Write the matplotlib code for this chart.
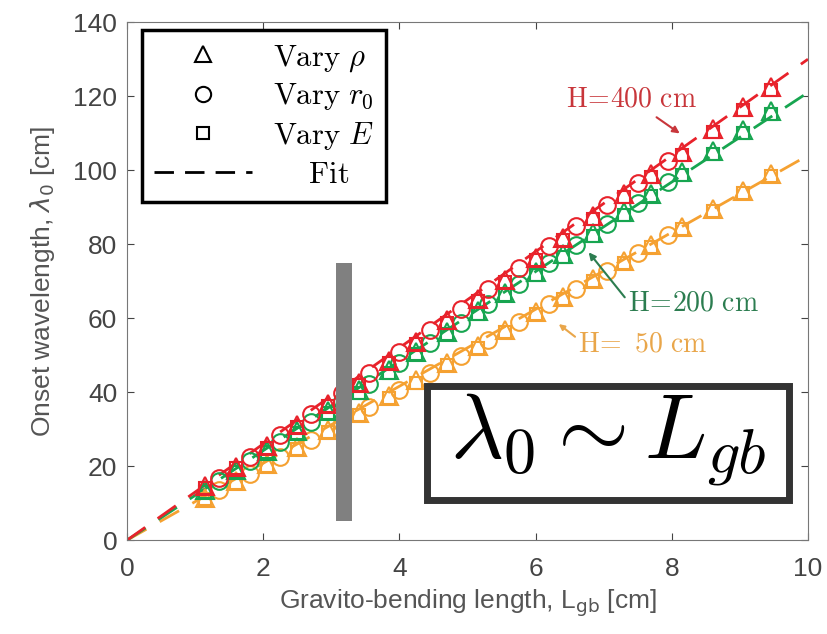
import numpy as np
import matplotlib.pyplot as plt
from matplotlib.lines import Line2D
from matplotlib.patches import Rectangle

plt.rcParams['mathtext.fontset'] = 'cm'
plt.rcParams['font.family'] = ['Liberation Sans', 'DejaVu Sans']

# dados ----------------------------------------------------------------------
x_tri = [1.15, 1.6, 2.05, 2.5, 2.95, 3.4, 3.85, 4.25, 4.7, 5.15,
         5.55, 6.0, 6.4, 6.85, 7.3, 7.7, 8.15, 8.6, 9.05, 9.45]
x_circ = [1.35, 1.8, 2.25, 2.7, 3.15, 3.55, 4.0, 4.45, 4.9, 5.3,
          5.75, 6.2, 6.6, 7.05, 7.5, 7.95]

# H = 400 cm (vermelho)
red_tri = [14.6, 19.9, 25.5, 31.2, 36.9, 42.6, 48.4, 53.5, 59.4, 65.2,
           70.4, 76.3, 81.6, 87.5, 93.5, 98.9, 105.0, 111.0, 117.0, 122.5]
red_sq = [14.0, 19.5, 25.0, 30.7, 36.3, 42.0, 47.8, 53.0, 58.8, 64.6,
          69.9, 75.7, 81.0, 86.9, 92.8, 98.2, 104.2, 110.3, 116.3, 121.8]
red_circ = [16.9, 22.6, 28.3, 34.0, 39.8, 45.1, 50.9, 56.7, 62.6, 67.9,
            73.6, 79.6, 84.8, 90.7, 96.6, 102.6]
red_fit = [0, 130]

# H = 200 cm (verde)
green_tri = [13.5, 18.9, 24.2, 29.6, 35.0, 40.5, 45.9, 50.8, 56.3, 61.9,
             66.8, 72.4, 77.3, 82.9, 88.6, 93.6, 99.4, 105.1, 110.8, 115.9]
green_sq = [13.0, 18.4, 23.7, 29.1, 34.4, 39.9, 45.3, 50.2, 55.7, 61.2,
            66.2, 71.7, 76.6, 82.2, 87.9, 92.9, 98.7, 104.4, 110.1, 115.2]
green_circ = [15.9, 21.3, 26.6, 32.0, 37.5, 42.3, 47.8, 53.3, 58.8, 63.7,
              69.3, 74.8, 79.8, 85.5, 91.1, 96.8]
green_fit = [0, 121]

# H = 50 cm (laranja)
orange_tri = [11.5, 16.0, 20.5, 25.1, 29.7, 34.4, 39.0, 43.2, 47.9, 52.6,
              56.8, 61.6, 65.8, 70.6, 75.5, 79.8, 84.7, 89.6, 94.5, 98.9]
orange_sq = [11.0, 15.5, 20.0, 24.6, 29.2, 33.8, 38.4, 42.6, 47.3, 52.0,
             56.2, 61.0, 65.2, 70.0, 74.9, 79.2, 84.1, 89.0, 93.9, 98.3]
orange_circ = [13.5, 18.0, 22.6, 27.2, 31.8, 35.9, 40.6, 45.3, 49.9, 54.2,
               58.9, 63.7, 67.9, 72.8, 77.6, 82.5]
orange_fit = [0, 104]

fit_x = [0, 10]

series = [
    ('#f5a131', orange_tri, orange_sq, orange_circ, orange_fit),
    ('#17a550', green_tri, green_sq, green_circ, green_fit),
    ('#e8222b', red_tri, red_sq, red_circ, red_fit),
]

fig = plt.figure(figsize=(8.27, 6.34), dpi=100)
ax = fig.add_axes([0.1536, 0.148, 0.8234, 0.817])

for cor, tri, sq, circ, fit in series:
    ax.plot(fit_x, fit, '--', color=cor, lw=2, dashes=(8, 5.5), zorder=2)
    ax.plot(x_tri, tri, '^', mfc='none', mec=cor, ms=13, mew=1.5, zorder=3)
    ax.plot(x_tri, sq, 's', mfc='none', mec=cor, ms=8.5, mew=1.5, zorder=3)
    ax.plot(x_circ, circ, 'o', mfc='none', mec=cor, ms=12, mew=1.5, zorder=3)

# barra cinza vertical
ax.plot([3.19, 3.19], [5.3, 75], color='#808080', lw=11.5, solid_capstyle='butt', zorder=4)

# caixa com a lei de escala
ax.add_patch(Rectangle((4.4, 10.8), 5.32, 31.0, fill=True, fc='white', ec='#333333', lw=5, zorder=5))
ax.text(7.06, 27.0, r'$\lambda_0 \sim L_{gb}$', fontsize=66, ha='center', va='center', color='black', zorder=6)

# anotacoes
ax.annotate(r'$\mathrm{H\!=\!400\ cm}$', xy=(8.15, 109.5), xytext=(6.45, 119.0),
            fontsize=20, color='#c8363b', ha='left', va='center',
            arrowprops=dict(arrowstyle='-|>', color='#c8363b', lw=1.5, mutation_scale=10))
ax.annotate(r'$\mathrm{H\!=\!200\ cm}$', xy=(6.78, 77.8), xytext=(7.35, 64.0),
            fontsize=20, color='#2c7d50', ha='left', va='center',
            arrowprops=dict(arrowstyle='-|>', color='#2c7d50', lw=1.5, mutation_scale=10,
                            shrinkA=0, shrinkB=0, relpos=(0, 0.6)))
ax.annotate(r'$\mathrm{H\!=\ 50\ cm}$', xy=(6.34, 58.4), xytext=(6.62, 53.0),
            fontsize=20, color='#e9a64a', ha='left', va='center',
            arrowprops=dict(arrowstyle='-|>', color='#e9a64a', lw=1.5, mutation_scale=8,
                            shrinkA=0, shrinkB=0, relpos=(0, 0.7)))

# legenda
handles = [
    Line2D([], [], ls='none', marker='^', mfc='none', mec='black', ms=12, mew=1.5),
    Line2D([], [], ls='none', marker='o', mfc='none', mec='black', ms=11, mew=1.5),
    Line2D([], [], ls='none', marker='s', mfc='none', mec='black', ms=9, mew=1.5),
    Line2D([], [], ls='--', color='black', lw=2, dashes=(7, 4)),
]
labels = [r'$\mathrm{Vary}\ \rho$', r'$\mathrm{Vary}\ r_0$', r'$\mathrm{Vary}\ E$', r'$\mathrm{\ \ \ \ Fit}$']
leg = ax.legend(handles, labels, loc='upper left', bbox_to_anchor=(0.022, 0.985),
                fontsize=22, handlelength=3.2, labelspacing=0.25, borderpad=0.4,
                handletextpad=0.7, fancybox=False, framealpha=1, borderaxespad=0)
leg.get_frame().set_edgecolor('black')
leg.get_frame().set_linewidth(2.5)
leg.set_zorder(7)

ax.set_xlim(0, 10)
ax.set_ylim(0, 140)
ax.set_xticks([0, 2, 4, 6, 8, 10])
ax.set_yticks(range(0, 141, 20))
ax.tick_params(direction='in', top=True, right=True, labelsize=19, colors='#444444', length=5, pad=7)
ax.tick_params(axis='x', pad=12)
for s in ax.spines.values():
    s.set_color('#777777')
ax.set_xlabel(r'Gravito-bending length, L$_\mathrm{gb}$ [cm]', fontsize=19, color='#555555',
              math_fontfamily='dejavusans', labelpad=5)
ax.set_ylabel(r'Onset wavelength, $\lambda_0$ [cm]', fontsize=19, color='#555555',
              math_fontfamily='dejavusans', labelpad=12)

fig.savefig('out.png', dpi=100)
